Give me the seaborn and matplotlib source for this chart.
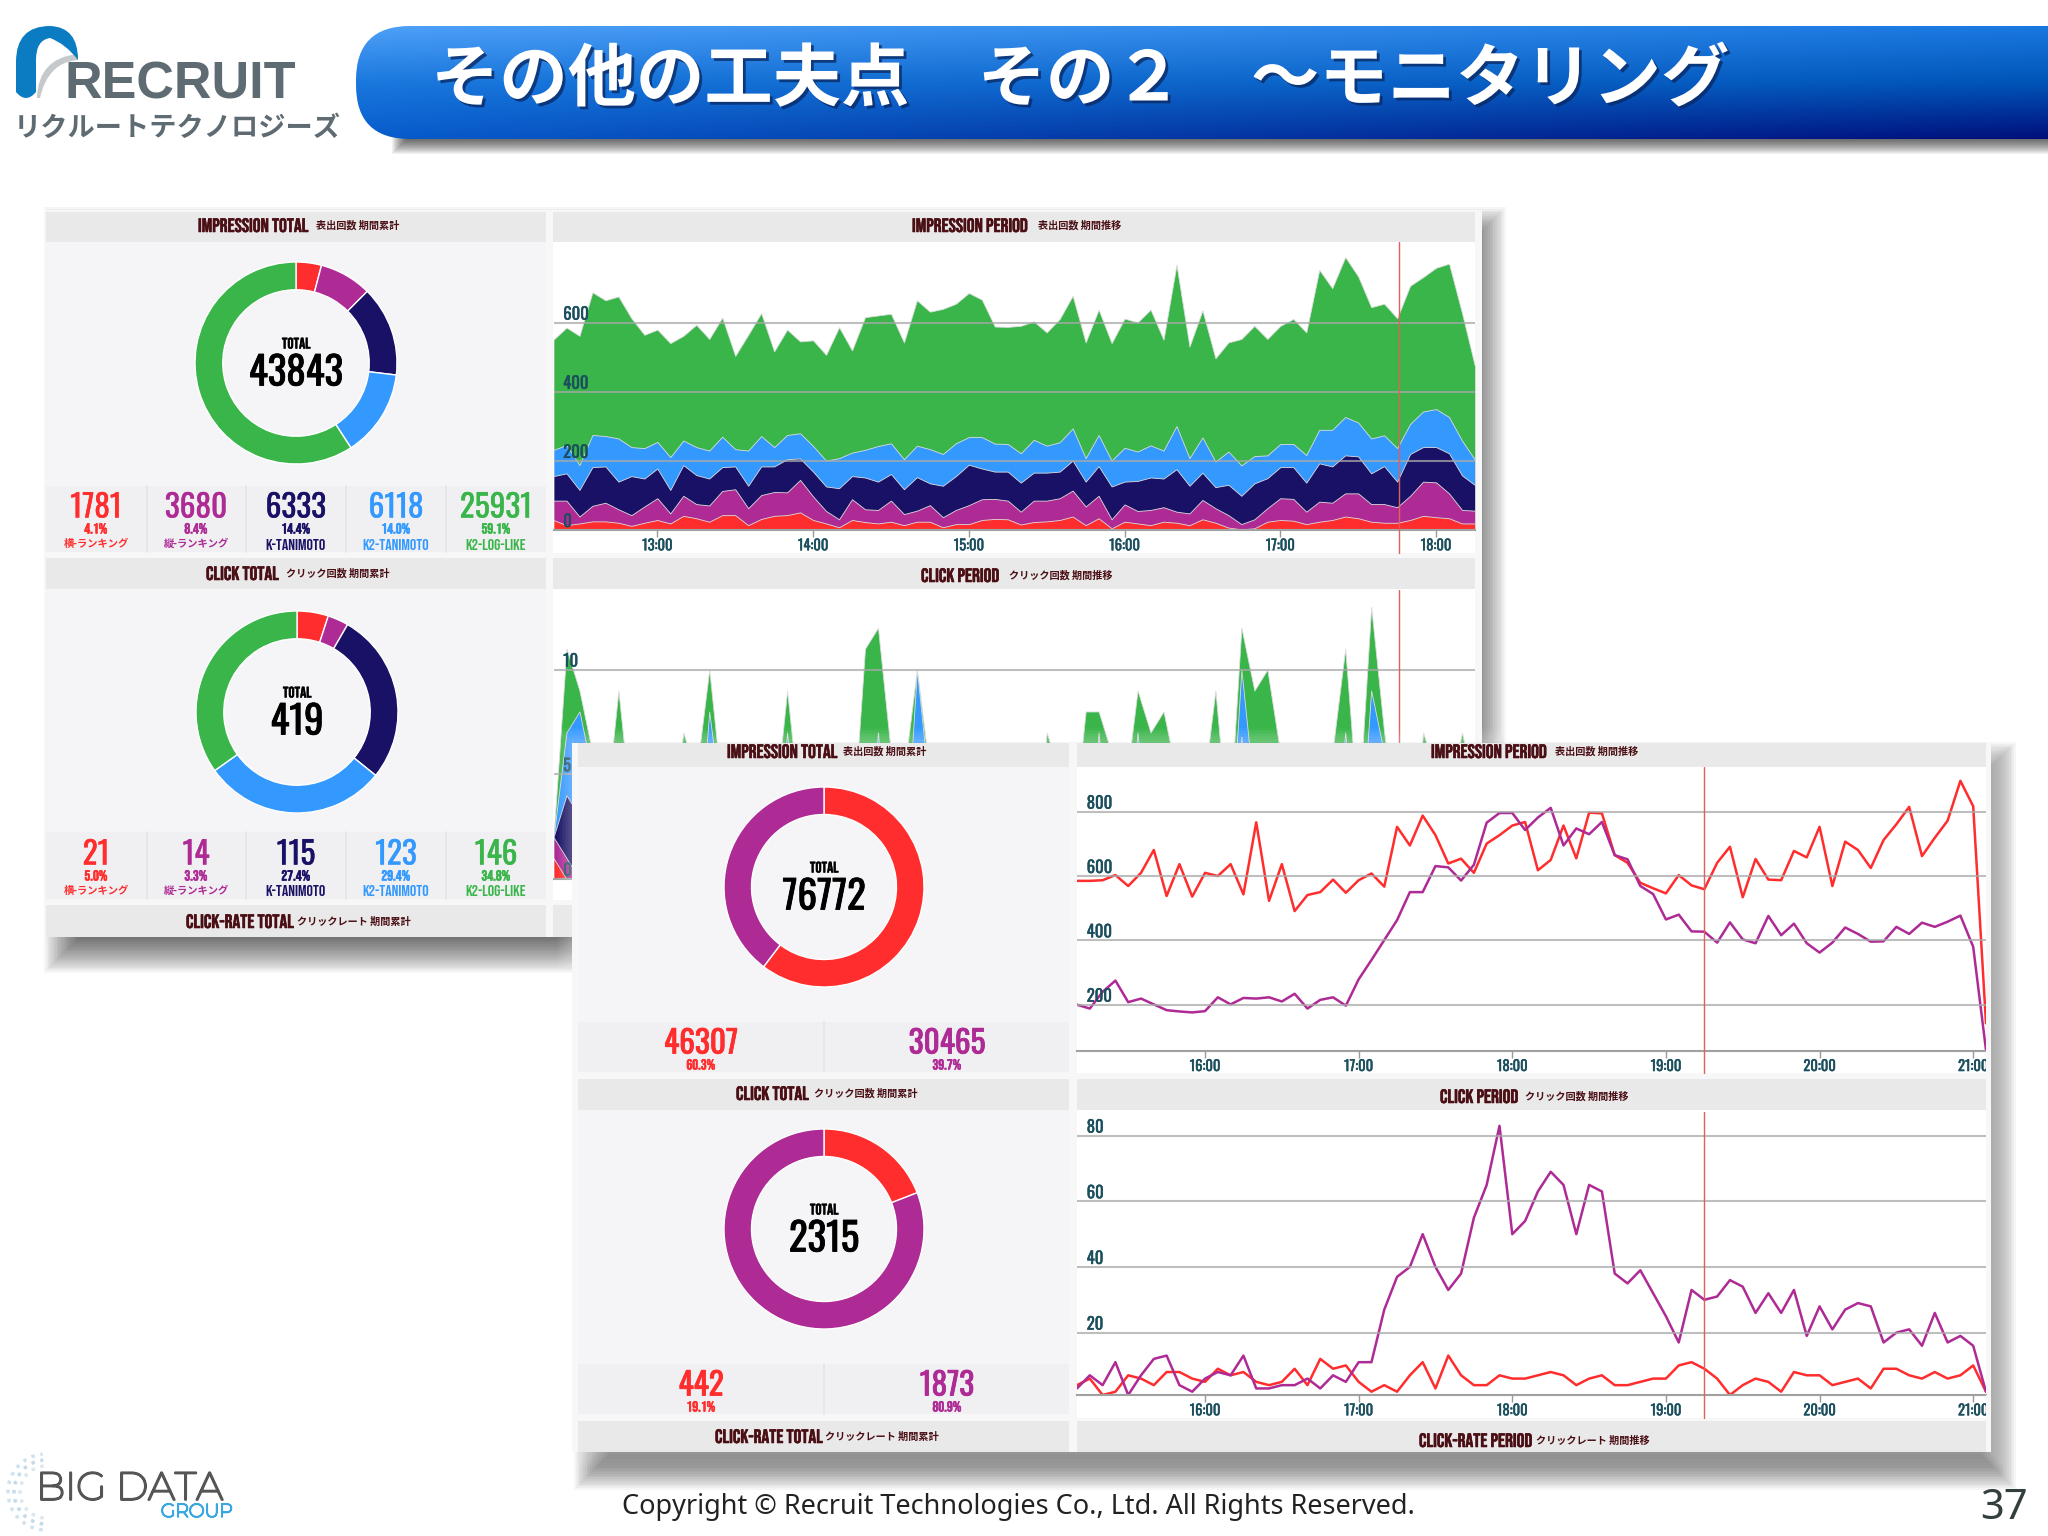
import numpy as np
import pandas as pd
import matplotlib
matplotlib.use('Agg')
import matplotlib.pyplot as plt
import matplotlib.patheffects as pe
from matplotlib.patches import Rectangle, FancyBboxPatch, PathPatch, Arc
from matplotlib.path import Path
import seaborn as sns

W, H = 2048, 1536

# colours of the dashboard
RED = '#ff2d2d'
PURPLE = '#ae2a95'
NAVY = '#191165'
BLUE = '#3399ff'
GREEN = '#39b54a'
FIVE_COLORS = [RED, PURPLE, NAVY, BLUE, GREEN]
TWO_COLORS = [RED, PURPLE]
TITLE_COLOR = '#4a0f14'
TICK_COLOR = '#1b4f5e'
BAND = '#e9e9ea'
BODY = '#f5f5f7'
STAT = '#f0f0f2'
WINDOW = '#f7f7f8'

NARROW = ['Oswald', 'Antonio', 'Roboto', 'DejaVu Sans']
CAPS = ['Bebas Neue', 'Oswald', 'Roboto', 'DejaVu Sans']
CJK = ['Noto Sans CJK JP', 'DejaVu Sans']
WIDE = ['Montserrat', 'DejaVu Sans']

# back window, totals
five_names = ['横-ランキング', '縦-ランキング', 'K-TANIMOTO', 'K2-TANIMOTO', 'K2-LOG-LIKE']
impression_total = [1781, 3680, 6333, 6118, 25931]
impression_pct = ['4.1', '8.4', '14.4', '14.0', '59.1']
click_total = [21, 14, 115, 123, 146]
click_pct = ['5.0', '3.3', '27.4', '29.4', '34.8']

# back window, impression period: top of each stacked layer, every 5 minutes from 12:20
imp_green_top = [551, 586, 562, 688, 665, 676, 613, 565, 580, 541, 562, 594, 553, 615, 504, 565, 628, 517, 580, 546,
                 549, 507, 587, 520, 616, 621, 626, 543, 665, 632, 640, 655, 686, 667, 589, 588, 591, 604, 572, 611,
                 678, 543, 638, 541, 612, 601, 638, 551, 768, 531, 636, 497, 543, 553, 591, 553, 591, 611, 572, 753,
                 700, 790, 734, 645, 655, 613, 707, 732, 759, 771, 628, 473]
imp_blue_top = [232, 246, 188, 275, 272, 265, 240, 237, 255, 211, 259, 240, 230, 270, 234, 230, 272, 240, 275, 280,
                243, 201, 208, 224, 232, 243, 251, 205, 244, 234, 220, 251, 269, 269, 250, 249, 222, 261, 244, 254,
                294, 208, 275, 201, 238, 227, 245, 230, 301, 208, 268, 198, 227, 187, 214, 216, 249, 249, 217, 290,
                290, 327, 311, 265, 274, 237, 307, 343, 350, 327, 259, 203]
imp_navy_top = [156, 164, 116, 182, 184, 140, 156, 149, 178, 116, 188, 159, 149, 182, 184, 128, 184, 184, 205, 207,
                169, 126, 121, 156, 152, 140, 162, 118, 153, 135, 128, 156, 189, 178, 169, 169, 137, 166, 166, 169,
                201, 140, 185, 126, 140, 142, 152, 149, 176, 128, 166, 124, 131, 99, 135, 150, 182, 182, 137, 193,
                184, 216, 213, 164, 185, 140, 220, 240, 240, 222, 158, 130]
imp_purple_top = [85, 85, 39, 70, 79, 60, 43, 68, 92, 48, 99, 75, 71, 113, 118, 63, 101, 110, 109, 145,
                  97, 55, 31, 89, 60, 58, 85, 46, 56, 72, 37, 58, 72, 89, 90, 85, 53, 85, 85, 92,
                  114, 68, 99, 31, 74, 55, 58, 66, 53, 48, 87, 63, 43, 17, 31, 63, 92, 90, 53, 82,
                  79, 106, 106, 75, 75, 66, 99, 140, 138, 106, 58, 56]
imp_red_top = [29, 14, 19, 25, 25, 21, 12, 21, 29, 19, 41, 34, 24, 43, 43, 14, 32, 41, 43, 51,
               29, 19, 8, 29, 23, 19, 24, 14, 24, 24, 8, 17, 17, 29, 32, 31, 16, 23, 25, 29,
               39, 14, 34, 5, 24, 19, 14, 24, 21, 14, 31, 21, 7, 2, 5, 24, 29, 27, 17, 24,
               29, 39, 34, 24, 21, 21, 29, 41, 37, 34, 19, 19]

# back window, click period: most of it is hidden behind the front window
clk_green_top = [2, 11, 9, 6, 3, 9, 3, 0, 0, 2, 7, 5, 10, 4, 0, 0, 0, 3, 9, 3,
                 0, 0, 0, 2, 11, 12, 6, 5, 10, 5, 0, 0, 0, 0, 0, 0, 0, 0, 7, 5,
                 2, 8, 8, 6, 4, 9, 7, 8, 5, 0, 4, 9, 2, 12, 9, 10, 6, 0, 0, 0,
                 6, 11, 3, 13, 7, 2, 0, 7, 5, 4, 7, 4]
clk_blue_top = [2, 7, 8, 5, 2, 0, 0, 0, 0, 0, 4, 0, 8, 3, 0, 0, 0, 0, 7, 0,
                0, 0, 0, 0, 0, 7, 0, 0, 10, 4, 0, 0, 0, 0, 0, 0, 0, 0, 0, 0,
                0, 0, 7, 0, 0, 7, 0, 0, 0, 0, 0, 0, 0, 10, 4, 0, 0, 0, 0, 0,
                0, 7, 0, 9, 6, 0, 0, 0, 0, 0, 0, 0]
clk_navy_top = [2, 4, 3, 2, 0, 0, 0, 0, 0, 0, 0, 0, 0, 0, 0, 0, 0, 0, 0, 0,
                0, 0, 0, 0, 0, 0, 0, 0, 0, 0, 0, 0, 0, 0, 0, 0, 0, 0, 0, 0,
                0, 0, 6.8, 0, 0, 0, 0, 0, 0, 0, 0, 0, 0, 6.8, 0, 0, 0, 0, 0, 0,
                0, 0, 0, 0, 0, 0, 0, 0, 0, 0, 0, 0]
clk_purple_top = [2, 1] + [0] * 70
clk_red_top = [1, 0] + [0] * 70

# front window
front_imp_total = [46307, 30465]
front_imp_pct = ['60.3', '39.7']
front_clk_total = [442, 1873]
front_clk_pct = ['19.1', '80.9']

# front window, period lines: every 5 minutes from 15:10
front_imp_red = [585, 585, 587, 603, 569, 610, 681, 538, 637, 536, 610, 600, 637, 543, 767, 523, 637, 491, 541, 550,
                 589, 548, 587, 608, 567, 753, 695, 788, 727, 639, 654, 610, 701, 727, 757, 768, 618, 650, 757, 655,
                 797, 795, 665, 641, 579, 562, 546, 603, 571, 559, 641, 691, 534, 653, 589, 587, 678, 658, 753, 569,
                 707, 681, 625, 712, 761, 815, 662, 719, 772, 896, 817, 142]
front_imp_purple = [200, 188, 240, 275, 208, 219, 201, 183, 179, 176, 180, 223, 201, 221, 219, 223, 210, 234, 188, 215,
                    223, 197, 279, 339, 401, 463, 550, 550, 631, 627, 586, 635, 766, 796, 796, 743, 782, 812, 695, 748,
                    730, 768, 665, 652, 569, 544, 465, 480, 428, 427, 393, 456, 403, 391, 476, 416, 452, 391, 362, 393,
                    440, 420, 396, 397, 442, 420, 455, 442, 458, 477, 380, 59]
front_clk_red = [4, 6, 1, 2, 7, 6, 4, 8, 8, 6, 5, 9, 7, 8, 5, 4, 5, 9, 4, 12,
                 9, 10, 5, 2, 4, 2, 7, 11, 3, 13, 7, 4, 4, 7, 6, 6, 7, 8, 7, 4,
                 6, 7, 4, 4, 5, 6, 6, 10, 11, 9, 6, 1, 4, 6, 5, 2, 8, 7, 7, 4,
                 5, 6, 3, 9, 9, 7, 6, 8, 6, 7, 10, 2]
front_clk_purple = [3, 7, 4, 11, 1, 7, 12, 13, 4, 2, 6, 8, 7, 13, 3, 3, 4, 4, 6, 3,
                    7, 5, 11, 11, 27, 37, 40, 50, 40, 33, 38, 55, 65, 83, 50, 54, 63, 69, 65, 50,
                    65, 63, 38, 35, 39, 32, 25, 17, 33, 30, 31, 36, 34, 26, 32, 26, 33, 19, 28, 21,
                    27, 29, 28, 17, 20, 21, 16, 26, 17, 19, 16, 2]

back_hours = [780, 840, 900, 960, 1020, 1080]
back_hour_labels = ['13:00', '14:00', '15:00', '16:00', '17:00', '18:00']
front_hours = [960, 1020, 1080, 1140, 1200, 1260]
front_hour_labels = ['16:00', '17:00', '18:00', '19:00', '20:00', '21:00']

sns.set_theme(style='white')
plt.rcParams['font.family'] = CJK
plt.rcParams['axes.unicode_minus'] = False

fig = plt.figure(figsize=(W / 100, H / 100), dpi=100, facecolor='white')


def heavy(color, width=0.4):
    # the narrow fonts come in one weight only
    return [pe.withStroke(linewidth=width, foreground=color)]


def layer(zorder):
    ax = fig.add_axes([0, 0, 1, 1], zorder=zorder)
    ax.set_xlim(0, W)
    ax.set_ylim(H, 0)
    ax.axis('off')
    ax.patch.set_alpha(0)
    return ax


def px_axes(x0, y0, x1, y1, zorder):
    return fig.add_axes([x0 / W, 1 - y1 / H, (x1 - x0) / W, (y1 - y0) / H], zorder=zorder)


def box(ax, x0, y0, x1, y1, color, **kw):
    ax.add_patch(Rectangle((x0, y0), x1 - x0, y1 - y0, facecolor=color, edgecolor='none', **kw))


def shadow(ax, x0, y0, x1, y1, spread, alpha, color='black', n=20):
    # soft edge made of nested boxes
    for k in range(n):
        d = spread * (1 - k / n) - spread / 2
        box(ax, x0 - d, y0 - d, x1 + d, y1 + d, color, alpha=alpha)


def panel_title(ax, x, y, title, sub_x, sub):
    ax.text(x, y, title, family=CAPS, fontsize=14, color=TITLE_COLOR, ha='left', va='center',
            path_effects=heavy(TITLE_COLOR))
    ax.text(sub_x, y + 1, sub, family=CJK, weight='bold', fontsize=7.3, color=TITLE_COLOR, ha='left', va='center')


def donut(x, y, r, values, colors, number, zorder, ax_text):
    ax = px_axes(x - r, y - r, x + r, y + r, zorder)
    ax.pie(values, colors=colors, startangle=90, counterclock=False, radius=1,
           wedgeprops=dict(width=0.275, edgecolor='white', linewidth=1))
    ax.set_xlim(-1, 1)
    ax.set_ylim(-1, 1)
    ax.patch.set_alpha(0)
    ax_text.text(x, y - 20, 'TOTAL', family=CAPS, fontsize=11, color='black', ha='center', va='center',
                 path_effects=heavy('black', 0.3))
    ax_text.text(x, y + 10, str(number), family=NARROW, fontsize=28, color='black', ha='center', va='center',
                 path_effects=heavy('black', 0.6))


def chart_style(ax, xlim, ylim, hours, hour_labels, yticks, label_size=12):
    ax.set_facecolor('white')
    ax.set_xlim(*xlim)
    ax.set_ylim(*ylim)
    ax.set_xticks(hours)
    ax.set_xticklabels(hour_labels, family=NARROW, fontsize=label_size - 1.5, color=TICK_COLOR,
                       path_effects=heavy(TICK_COLOR, 0.3))
    ax.set_yticks(yticks)
    ax.set_yticklabels([str(t) for t in yticks], family=NARROW, fontsize=label_size,
                       color=TICK_COLOR, ha='left', va='bottom', path_effects=heavy(TICK_COLOR, 0.3))
    ax.tick_params(axis='x', length=5, width=1, color='#999999', pad=1, bottom=True)
    ax.tick_params(axis='y', length=0, pad=-7)
    ax.set_xlabel('')
    ax.set_ylabel('')
    ax.grid(axis='y', color='#a8a8a8', alpha=0.75, linewidth=1.5)
    ax.grid(axis='x', visible=False)
    ax.set_axisbelow(False)
    for side in ['top', 'left', 'right']:
        ax.spines[side].set_visible(False)
    ax.spines['bottom'].set_color('#a0a0a0')
    ax.spines['bottom'].set_linewidth(1.5)


def stacked(ax, minutes, tops, colors):
    # widest layer first, each one painted from the axis up
    for top, color in zip(tops, colors):
        ax.fill_between(minutes, 0, top, color=color, linewidth=0.6, edgecolor='#dddddd')


def two_lines(ax, minutes, red, purple):
    df = pd.DataFrame({
        'minute': np.concatenate([minutes, minutes]),
        'value': red + purple,
        'series': ['red'] * len(red) + ['purple'] * len(purple),
    })
    sns.lineplot(data=df, x='minute', y='value', hue='series', palette={'red': RED, 'purple': PURPLE},
                 estimator=None, sort=False, linewidth=1.8, legend=False, ax=ax)


def stat_cell(ax, x, y_num, number, pct, color, y_pct, name=None, y_name=None, size=22.5, weight=0.3):
    ax.text(x, y_num, str(number), family=NARROW, fontsize=size, color=color, ha='center', va='center',
            path_effects=heavy(color, weight))
    ax.text(x, y_pct, pct + '%', family=CAPS, fontsize=10.5, color=color, ha='center', va='center',
            path_effects=heavy(color))
    if name:
        is_jp = name[0] in '横縦'
        ax.text(x, y_name, name, family=CJK if is_jp else CAPS, weight='bold' if is_jp else 'normal',
                fontsize=7.4 if is_jp else 11.5, color=color, ha='center', va='center')


# slide background, header and logos
bg = layer(0)

shadow(bg, 400, 45, 2080, 146, 16, 0.05, n=16)
grad_left = np.array([[0.31, 0.63, 0.97], [0.10, 0.47, 0.87], [0.03, 0.36, 0.80]])
grad_right = np.array([[0.10, 0.47, 0.88], [0.00, 0.33, 0.72], [0.00, 0.06, 0.48]])
ys = np.linspace(0, 2, 113)[:, None]
xs = np.linspace(0, 1, 300)[None, :, None]
col_left = np.stack([np.interp(ys[:, 0], [0, 1, 2], grad_left[:, c]) for c in range(3)], axis=1)[:, None, :]
col_right = np.stack([np.interp(ys[:, 0], [0, 1, 2], grad_right[:, c]) for c in range(3)], axis=1)[:, None, :]
header_img = col_left * (1 - xs) + col_right * xs
header_shape = FancyBboxPatch((356, 26), 1800, 113, boxstyle='round,pad=0,rounding_size=54',
                              facecolor='none', edgecolor='none', transform=bg.transData)
bg.add_patch(header_shape)
img = bg.imshow(header_img, extent=(356, 2048, 139, 26), aspect='auto', zorder=2)
img.set_clip_path(header_shape)
bg.set_xlim(0, W)
bg.set_ylim(H, 0)
bg.text(431, 81, 'その他の工夫点　その２　～モニタリング', family=CJK, weight='bold', fontsize=49.2, color='white',
        ha='left', va='center', zorder=3,
        path_effects=[pe.SimplePatchShadow(offset=(2, -2), shadow_rgbFace='#0a2a66', alpha=0.8), pe.Normal()])

arch = Path([(16, 92), (16, 62), (16, 26), (50, 26), (78, 27), (78, 60), (66, 44), (50, 38), (36, 40), (36, 60), (36, 92), (26, 104), (16, 92)],
            [Path.MOVETO, Path.LINETO, Path.CURVE3, Path.CURVE3, Path.CURVE3, Path.CURVE3, Path.CURVE3, Path.CURVE3,
             Path.CURVE3, Path.CURVE3, Path.LINETO, Path.CURVE3, Path.CURVE3])
swoosh = Path([(37, 98), (38, 58), (78, 54), (78, 60), (48, 62), (40, 98)],
              [Path.MOVETO, Path.CURVE3, Path.CURVE3, Path.LINETO, Path.CURVE3, Path.CURVE3])
bg.add_patch(PathPatch(swoosh, facecolor='#c6c9cb', edgecolor='none'))
bg.add_patch(PathPatch(arch, facecolor='#0b7cc2', edgecolor='none'))
bg.text(64, 85, 'RECRUIT', family='Liberation Sans', weight='bold', fontsize=37.5, color='#5f6b72', ha='left', va='center')
bg.text(14, 128, 'リクルートテクノロジーズ', family=CJK, weight='bold', fontsize=19.6, color='#5f6b72', ha='left', va='center')

for r, c in zip([26, 32, 38], ['#dbe8f0', '#c4dae8', '#d0e2ee']):
    bg.add_patch(Arc((46, 1492), 2 * r, 2 * r, theta1=95, theta2=265, color=c, linewidth=2.5, linestyle=':'))
bg.text(36, 1489, 'BIG DATA', family=WIDE, fontsize=28, color='#555555', ha='left', va='center',
        path_effects=heavy('#555555', 1.6))
bg.text(233, 1512, 'GROUP', family=WIDE, fontsize=13.5, color='#3ba7e0', ha='right', va='center',
        path_effects=heavy('#3ba7e0', 1.2))
bg.text(622, 1507, 'Copyright © Recruit Technologies Co., Ltd. All Rights Reserved.', family='Noto Sans',
        fontsize=19.5, color='#222222', ha='left', va='center')
bg.text(2028, 1508, '37', family='Noto Sans', fontsize=30, color='#333f3f', ha='right', va='center')

# back window
shadow(bg, 62, 225, 1488, 955, 36, 0.035)
box(bg, 45, 210, 1482, 937, WINDOW)
for x0, x1 in [(46, 546), (553, 1475)]:
    box(bg, x0, 212, x1, 242, BAND)
    box(bg, x0, 558, x1, 589, BAND)
    box(bg, x0, 905, x1, 937, BAND)
box(bg, 46, 242, 546, 486, BODY)
box(bg, 46, 486, 546, 552, STAT)
box(bg, 46, 589, 546, 832, BODY)
box(bg, 46, 832, 546, 899, STAT)
box(bg, 553, 242, 1475, 553, 'white')
box(bg, 553, 589, 1475, 900, 'white')
for x in [147, 246, 346, 446]:
    bg.plot([x, x], [486, 552], color='#e4e4e6', lw=1.2)
    bg.plot([x, x], [832, 899], color='#e4e4e6', lw=1.2)

panel_title(bg, 198, 225, 'IMPRESSION TOTAL', 316, '表出回数 期間累計')
panel_title(bg, 912, 225, 'IMPRESSION PERIOD', 1038, '表出回数 期間推移')
panel_title(bg, 206, 573, 'CLICK TOTAL', 286, 'クリック回数 期間累計')
panel_title(bg, 921, 575, 'CLICK PERIOD', 1009, 'クリック回数 期間推移')
panel_title(bg, 186, 921, 'CLICK-RATE TOTAL', 297, 'クリックレート 期間累計')

donut(296, 363, 101, impression_total, FIVE_COLORS, 43843, 1, bg)
donut(297, 712, 101, click_total, FIVE_COLORS, 419, 1, bg)
for x, n, p, name, c in zip([96, 196, 296, 396, 496], impression_total, impression_pct, five_names, FIVE_COLORS):
    stat_cell(bg, x, 508, n, p, c, 528, name, 544)
for x, n, p, name, c in zip([96, 196, 296, 396, 496], click_total, click_pct, five_names, FIVE_COLORS):
    stat_cell(bg, x, 855, n, p, c, 875, name, 891)

back_minutes = 740 + 5 * np.arange(72)
ax_imp = px_axes(553.5, 242, 1475, 530, 1)
stacked(ax_imp, back_minutes, [imp_green_top, imp_blue_top, imp_navy_top, imp_purple_top, imp_red_top],
        [GREEN, BLUE, NAVY, PURPLE, RED])
chart_style(ax_imp, (740, 1095), (0, 833.6), back_hours, back_hour_labels, [0, 200, 400, 600])
ax_imp.axvline(1065.7, color='#e0605a', lw=1, zorder=5)
ax_imp.plot([1065.7, 1065.7], [0, -66], color='#e0605a', lw=1, clip_on=False, zorder=5)

# hour labels of this chart sit behind the front window, so none are drawn
ax_clk = px_axes(553.5, 590, 1475, 879, 1)
stacked(ax_clk, back_minutes, [clk_green_top, clk_blue_top, clk_navy_top, clk_purple_top, clk_red_top],
        [GREEN, BLUE, NAVY, PURPLE, RED])
chart_style(ax_clk, (740, 1095), (0, 13.8), [], [], [0, 5, 10])
ax_clk.axvline(1065.7, color='#e0605a', lw=1, zorder=5)

# front window
front = layer(2)
shadow(front, 592, 760, 1998, 1472, 36, 0.035)
shadow(front, 572, 743, 1991, 1452, 30, 0.03, color='white')
box(front, 572, 743, 1991, 1452, WINDOW)
for x0, x1 in [(578, 1069), (1077, 1986)]:
    box(front, x0, 743, x1, 767, BAND)
    box(front, x0, 1079, x1, 1110, BAND)
    box(front, x0, 1421, x1, 1452, BAND)
box(front, 578, 767, 1069, 1022, BODY)
box(front, 578, 1022, 1069, 1072, STAT)
box(front, 578, 1110, 1069, 1364, BODY)
box(front, 578, 1364, 1069, 1414, STAT)
box(front, 1077, 767, 1986, 1073, 'white')
box(front, 1077, 1110, 1986, 1418, 'white')
front.plot([824, 824], [1022, 1072], color='#e4e4e6', lw=1.2)
front.plot([824, 824], [1364, 1414], color='#e4e4e6', lw=1.2)

panel_title(front, 727, 751, 'IMPRESSION TOTAL', 843, '表出回数 期間累計')
panel_title(front, 1431, 751, 'IMPRESSION PERIOD', 1555, '表出回数 期間推移')
panel_title(front, 736, 1093, 'CLICK TOTAL', 814, 'クリック回数 期間累計')
panel_title(front, 1440, 1096, 'CLICK PERIOD', 1525, 'クリック回数 期間推移')
panel_title(front, 715, 1436, 'CLICK-RATE TOTAL', 825, 'クリックレート 期間累計')
panel_title(front, 1419, 1440, 'CLICK-RATE PERIOD', 1536, 'クリックレート 期間推移')

donut(824, 887, 100, front_imp_total, TWO_COLORS, 76772, 3, front)
donut(824, 1229, 100, front_clk_total, TWO_COLORS, 2315, 3, front)
for x, n, p, c in zip([701, 947], front_imp_total, front_imp_pct, TWO_COLORS):
    stat_cell(front, x, 1044, n, p, c, 1064, size=22.5, weight=0.6)
for x, n, p, c in zip([701, 947], front_clk_total, front_clk_pct, TWO_COLORS):
    stat_cell(front, x, 1386, n, p, c, 1406, size=22.5, weight=0.6)

front_minutes = 910 + 5 * np.arange(72)
ax_fi = px_axes(1077, 767, 1986, 1050.7, 3)
two_lines(ax_fi, front_minutes, front_imp_red, front_imp_purple)
chart_style(ax_fi, (910, 1265), (57, 939), front_hours, front_hour_labels, [200, 400, 600, 800])
ax_fi.axvline(1155, color='#e0605a', lw=1, zorder=5)
ax_fi.plot([1155, 1155], [57, -12], color='#e0605a', lw=1, clip_on=False, zorder=5)

ax_fc = px_axes(1077, 1111.7, 1986, 1395, 3)
two_lines(ax_fc, front_minutes, front_clk_red, front_clk_purple)
chart_style(ax_fc, (910, 1265), (1, 87.3), front_hours, front_hour_labels, [20, 40, 60, 80])
ax_fc.axvline(1155, color='#e0605a', lw=1, zorder=5)
ax_fc.plot([1155, 1155], [1, -6], color='#e0605a', lw=1, clip_on=False, zorder=5)

# the last hour label is cut by the window edge
top = layer(4)
box(top, 1986, 1050, 1991, 1075, WINDOW)
box(top, 1986, 1395, 1991, 1420, WINDOW)

fig.savefig('out.png', dpi=100)
